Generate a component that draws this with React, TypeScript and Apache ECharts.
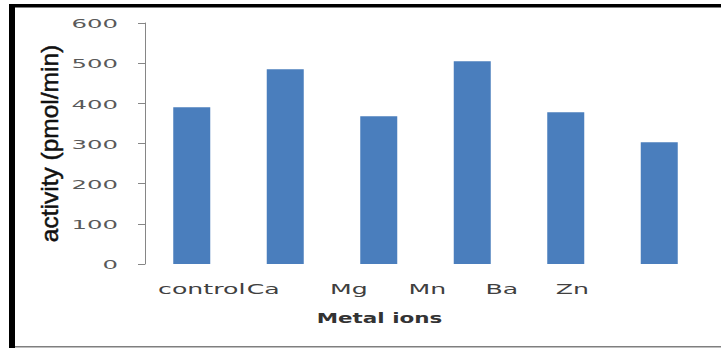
import React, { useEffect, useRef } from "react";
import * as echarts from "echarts";

// Enzyme activity (pmol/min) measured in the presence of each metal ion
const categories = ["control", "Ca", "Mg", "Mn", "Ba", "Zn"];
const activity = [390, 485, 368, 505, 378, 303];
const yTicks = [0, 100, 200, 300, 400, 500, 600];
const xAxisTitle = "Metal ions";
const yAxisTitle = "activity (pmol/min)";

const W = 721;
const H = 348;

// Horizontal nudge of each category caption from its bar centre (px)
const captionShift = [10, -22, -30, -45, -64, -87];

export default function App() {
  const ref = useRef<HTMLDivElement>(null);

  useEffect(() => {
    document.body.style.margin = "0";
    if (!ref.current) return;
    const chart = echarts.init(ref.current, null, { renderer: "svg" });

    chart.setOption({
      animation: false,
      backgroundColor: "#ffffff",
      grid: {
        left: 145,
        right: 15,
        top: 23,
        bottom: 84,
        containLabel: false,
        outerBoundsMode: "none",
      },
      xAxis: {
        type: "category",
        data: categories,
        axisLine: { show: false },
        axisTick: { show: false },
        axisLabel: { show: false },
        splitLine: { show: false },
      },
      yAxis: {
        type: "value",
        min: 0,
        max: 600,
        interval: 100,
        axisLine: { show: true, lineStyle: { color: "#868686", width: 1 } },
        axisTick: { show: true, length: 7, lineStyle: { color: "#868686", width: 1 } },
        axisLabel: { show: false },
        splitLine: { show: false },
      },
      series: [
        {
          type: "bar",
          data: activity,
          barWidth: 37,
          itemStyle: { color: "#4A7EBD" },
        },
      ],
    });

    const firstX = chart.convertToPixel({ xAxisIndex: 0 }, categories[0]) as number;
    const lastX = chart.convertToPixel({ xAxisIndex: 0 }, categories[categories.length - 1]) as number;
    const zeroY = chart.convertToPixel({ yAxisIndex: 0 }, 0) as number;
    const topY = chart.convertToPixel({ yAxisIndex: 0 }, 600) as number;
    const bandW = (lastX - firstX) / (categories.length - 1);
    const yLineX = firstX - bandW / 2;

    const tickLabels = yTicks.map((v) => ({
      type: "text",
      x: yLineX - 27,
      y: (chart.convertToPixel({ yAxisIndex: 0 }, v) as number) + 1,
      scaleX: 1.95,
      style: {
        text: String(v),
        fill: "#595959",
        font: "12.5px 'DejaVu Sans'",
        align: "right",
        verticalAlign: "middle",
      },
    }));

    const catLabels = categories.map((c, i) => ({
      type: "text",
      x: (chart.convertToPixel({ xAxisIndex: 0 }, c) as number) + captionShift[i],
      y: zeroY + 25,
      scaleX: 1.8,
      style: {
        text: c,
        fill: "#404040",
        font: "14px 'DejaVu Sans'",
        align: "center",
        verticalAlign: "middle",
      },
    }));

    chart.setOption({
      graphic: [
        // frame
        { type: "rect", shape: { x: 9, y: 4, width: W - 9, height: 3.5 }, style: { fill: "#000" }, silent: true },
        { type: "rect", shape: { x: 9, y: 4, width: 6, height: H - 4 }, style: { fill: "#000" }, silent: true },
        { type: "rect", shape: { x: 15, y: 346, width: W - 15, height: 1.5 }, style: { fill: "#7f7f7f" }, silent: true },
        ...tickLabels,
        ...catLabels,
        {
          type: "text",
          x: (firstX + lastX) / 2 - 46,
          y: zeroY + 54,
          scaleX: 1.48,
          style: {
            text: xAxisTitle,
            fill: "#333333",
            font: "bold 14.5px 'DejaVu Sans'",
            align: "center",
            verticalAlign: "middle",
          },
        },
        {
          type: "text",
          x: yLineX - 96,
          y: (zeroY + topY) / 2,
          rotation: Math.PI / 2,
          style: {
            text: yAxisTitle,
            fill: "#111111",
            stroke: "#111111",
            lineWidth: 0.5,
            font: "24.5px 'Liberation Sans'",
            align: "center",
            verticalAlign: "middle",
          },
        },
      ],
    });

    return () => chart.dispose();
  }, []);

  return <div ref={ref} style={{ width: W, height: H }} />;
}
